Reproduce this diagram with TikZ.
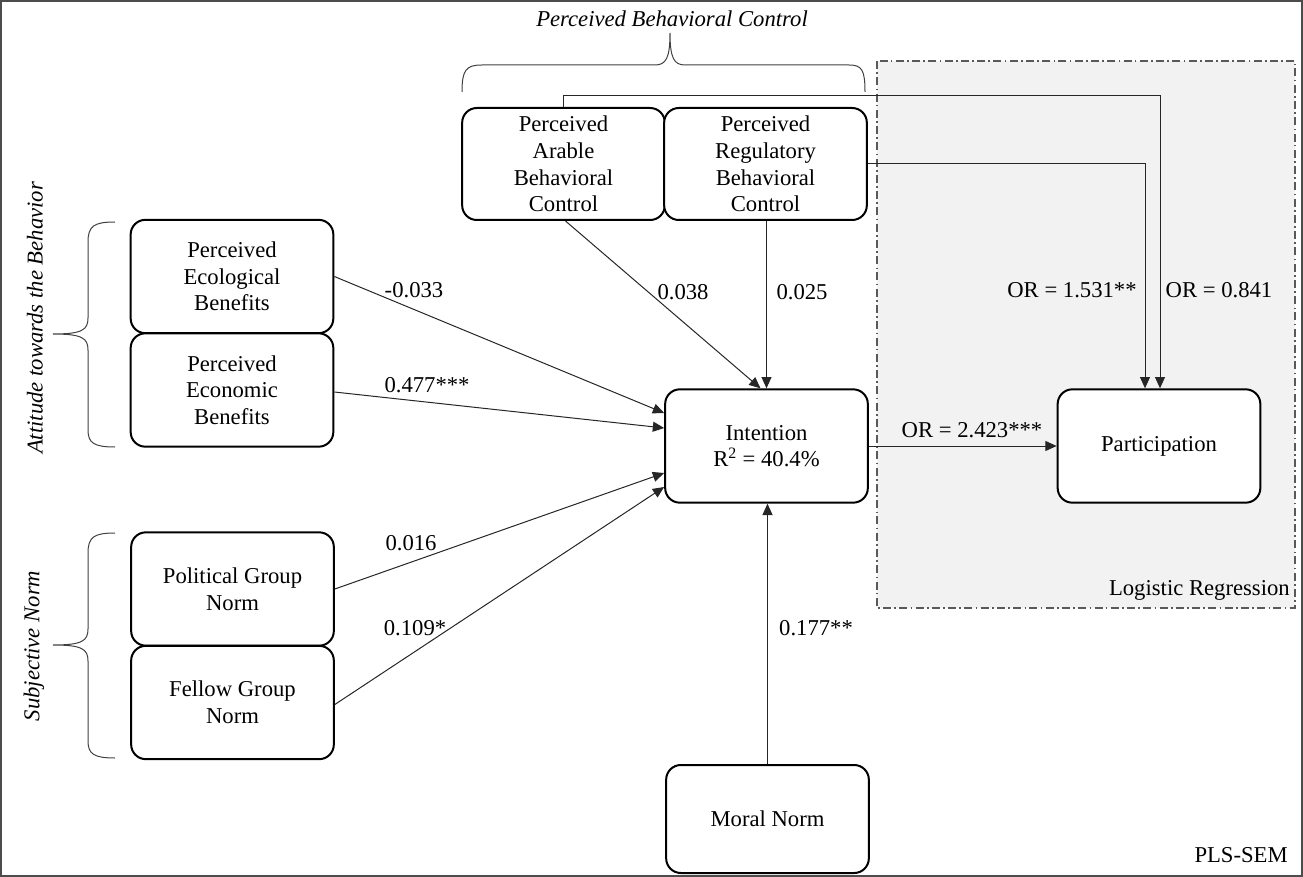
\documentclass[tikz,border=0pt]{standalone}
\usepackage{fontspec}
\setmainfont{Liberation Serif}
\usetikzlibrary{arrows.meta,calc}
\newcommand\myfs{\fontsize{17}{20}\selectfont}
\begin{document}
\begin{tikzpicture}[x=0.75pt,y=-0.75pt,
  box/.style={draw=black, line width=1.5pt, rounded corners=11pt, fill=white,
    align=center, font=\myfs, inner sep=0pt, minimum width=152pt, minimum height=85pt},
  arr/.style={draw=black!85, line width=0.75pt, -{Triangle[length=8.5pt,width=7.5pt]}},
  lbl/.style={font=\myfs, inner sep=0pt},
  bracestyle/.style={draw=black!75, line width=0.75pt},
  ttl/.style={font=\myfs\itshape, inner sep=0pt}]
\useasboundingbox (0,0) rectangle (1303,877);
% outer frame
\draw[black!70, line width=0.9pt] (1,1) rectangle (1302,876);
% logistic regression region
\draw[fill=black!5, draw=black!65, line width=0.8pt,
  dash pattern=on 6pt off 2.5pt on 1.2pt off 2.5pt] (877,61) rectangle (1295,608);
\node[lbl, anchor=east] (lr) at (1290,590) {Logistic Regression};
\node[lbl, anchor=east] (pls) at (1288,855) {PLS-SEM};

% nodes
\node[box, minimum height=84pt] (arable) at (563.5,164) {Perceived\\Arable\\Behavioral\\Control};
\node[box, minimum height=84pt] (reg) at (765.5,164) {Perceived\\Regulatory\\Behavioral\\Control};
\node[box] (eco) at (232,276.5) {Perceived\\Ecological\\Benefits};
\node[box] (econ) at (232,390) {Perceived\\Economic\\Benefits};
\node[box] (pol) at (232.5,589) {Political Group\\Norm};
\node[box] (fel) at (232.5,702.5) {Fellow Group\\Norm};
\node[box] (int) at (766.5,446) {Intention\\R\textsuperscript{2} = 40.4\%};
\node[box] (part) at (1159,446) {Participation};
\node[box, minimum height=81pt] (moral) at (767.5,819) {Moral Norm};

% connectors
\draw[arr] (eco.east) -- ($(int.west)+(0,-33)$);
\draw[arr] ($(econ.east)+(0,2)$) -- ($(int.west)+(0,-18)$);
\draw[arr] (pol.east) -- ($(int.west)+(0,27)$);
\draw[arr] ($(fel.east)+(0,2)$) -- ($(int.west)+(0,41)$);
\draw[arr] ($(arable.south)+(2,0)$) -- ($(int.north)+(-6,0)$);
\draw[arr] ($(reg.south)+(1,0)$) -- ($(reg.south |- int.north)+(1,0)$);
\draw[arr] (moral.north) -- (moral.north |- int.south);
\draw[arr] (int.east) -- (part.west);
\draw[arr] (arable.north) -- ++(0,-11) -| ($(part.north)+(1,0)$);
\draw[arr] (reg.east) -| ($(part.north)+(-14,0)$);

% labels
\node[lbl] (l1) at (414,290) {-0.033};
\node[lbl] (l2) at (427,385) {0.477***};
\node[lbl] (l3) at (411,543) {0.016};
\node[lbl] (l4) at (415,628) {0.109*};
\node[lbl] (l5) at (683,292) {0.038};
\node[lbl] (l6) at (802,292) {0.025};
\node[lbl] (l7) at (816,628) {0.177**};
\node[lbl] (l8) at (1072,290) {OR = 1.531**};
\node[lbl] (l9) at (1219,290) {OR = 0.841};
\node[lbl] (l10) at (972,430) {OR = 2.423***};

% group titles and braces
\node[ttl] (tpbc) at (672,19) {Perceived Behavioral Control};
\node[ttl, rotate=90] (tatt) at (35,318) {Attitude towards the Behavior};
\node[ttl, rotate=90] (tsn) at (34,646) {Subjective Norm};

\draw[bracestyle] (462,92) .. controls (462,70) and (466,65) .. (482,65) -- (655,65)
  .. controls (666,65) and (670,58) .. (670,33)
  .. controls (670,58) and (674,65) .. (685,65) -- (849,65)
  .. controls (862,65) and (865,70) .. (865,92);
\draw[bracestyle] (115,222) .. controls (94,222) and (88,226) .. (88,242) -- (88,318)
  .. controls (88,330) and (82,334) .. (53,334)
  .. controls (82,334) and (88,338) .. (88,350) -- (88,430)
  .. controls (88,443) and (94,447) .. (115,447);
\draw[bracestyle] (115,533) .. controls (94,533) and (88,537) .. (88,553) -- (88,629)
  .. controls (88,641) and (82,645) .. (53,645)
  .. controls (82,645) and (88,649) .. (88,661) -- (88,741)
  .. controls (88,754) and (94,758) .. (115,758);
\end{tikzpicture}
\end{document}
